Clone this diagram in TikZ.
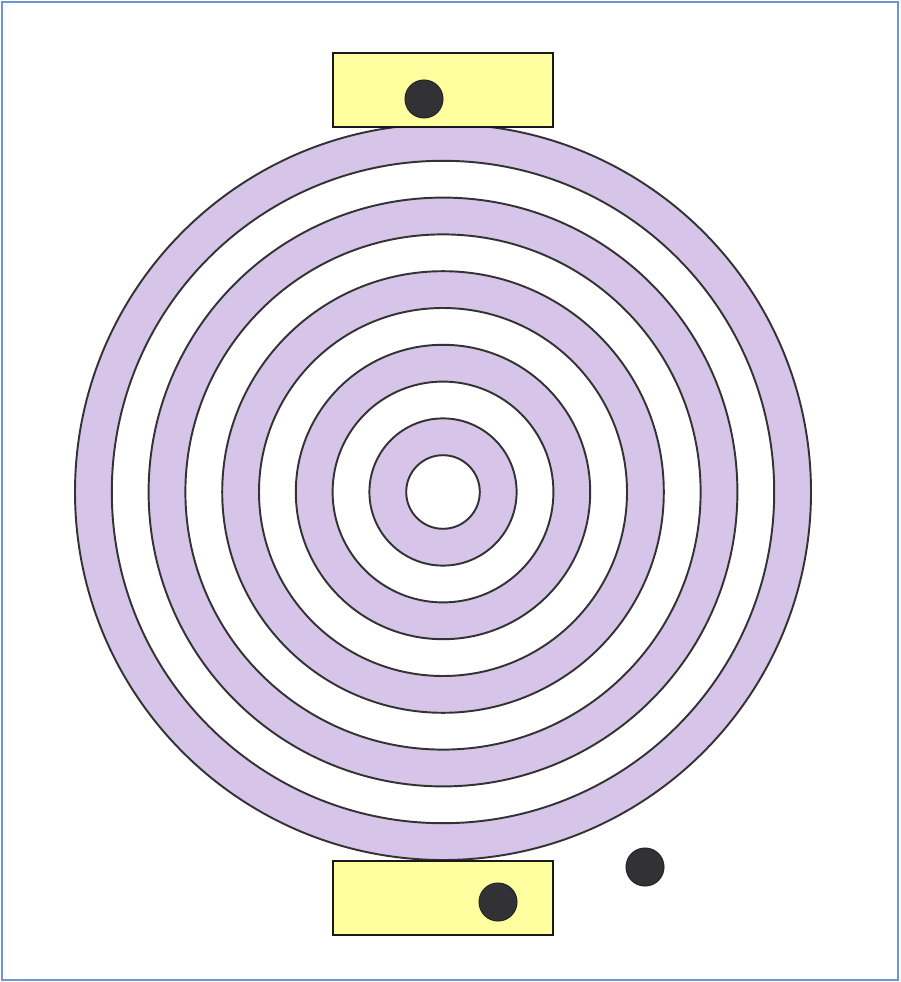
\documentclass[tikz,border=0pt]{standalone}
\usepackage{tikz}
\usetikzlibrary{positioning}
\definecolor{ringpurple}{RGB}{214,197,232}
\definecolor{padyellow}{RGB}{255,255,160}
\definecolor{dotgray}{RGB}{50,50,54}
\definecolor{frameblue}{RGB}{110,150,210}

\begin{document}
\begin{tikzpicture}[
    x=0.02cm, y=-0.02cm,
    pad/.style={rectangle, minimum width=4.4cm, minimum height=1.48cm, draw=black!90, fill=padyellow, line width=1pt},
    dot/.style={circle, minimum size=0.76cm, inner sep=0pt, draw=black!85, fill=dotgray, line width=0.6pt},
    ring/.style={draw=black!80, line width=1.1pt}
]

% Frame
\useasboundingbox (0,0) rectangle (900,982);
\draw[frameblue, line width=1.4pt] (2,2) rectangle (898,980);

% Concentric rings
\coordinate (centre) at (443,492);
\foreach \k in {10,...,1} {
    \pgfmathtruncatemacro{\odd}{mod(\k,2)}
    \ifnum\odd=0
        \draw[ring, fill=ringpurple] (centre) circle[radius=36.8*\k];
    \else
        \draw[ring, fill=white] (centre) circle[radius=36.8*\k];
    \fi
}

% Pads and dots
\node[pad] (toppad) at (443,90) {};
\node[pad] (bottompad) at (443,898) {};
\node[dot] (topdot) at (424,99) {};
\node[dot] (bottomdot) at (498,902) {};
\node[dot] (loosedot) at (645,867) {};

\end{tikzpicture}
\end{document}
